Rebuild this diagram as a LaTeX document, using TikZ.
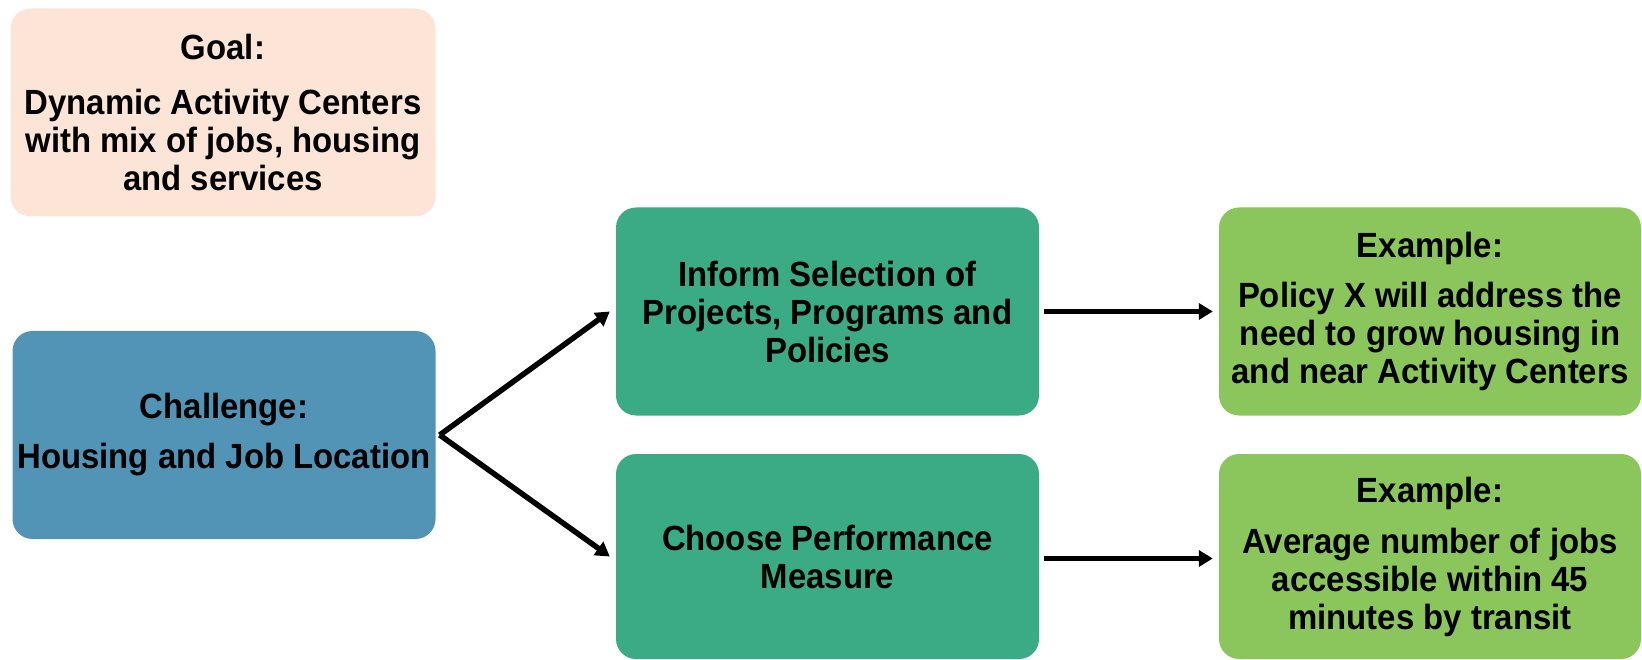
\documentclass[tikz,border=0pt]{standalone}
\usepackage{fontspec}
\newfontfamily\boxfont[FakeStretch=0.94]{Liberation Sans}
\usetikzlibrary{arrows.meta}
\definecolor{goalc}{HTML}{FCE4D7}
\definecolor{chalc}{HTML}{5194B6}
\definecolor{stepc}{HTML}{3AAB84}
\definecolor{exc}{HTML}{8AC65C}
\tikzset{
  card/.style={rounded corners=20pt, draw=none, align=center, inner sep=0pt,
    minimum width=423pt, minimum height=208pt,
    font=\boxfont\bfseries\fontsize{35}{38}\selectfont, text=black},
  arr/.style={line width=5.5pt, -{Triangle[length=14pt,width=16pt]}}
}
\begin{document}
\begin{tikzpicture}[x=1pt,y=-1pt]
\useasboundingbox (0,0) rectangle (1642,660);
\node[card, fill=goalc, minimum width=425pt] (goal) at (223,112.5)
  {Goal:\\[17pt]Dynamic Activity Centers\\with mix of jobs, housing\\and services};
\node[card, fill=chalc] (chal) at (224,435)
  {Challenge:\\[12pt]Housing and Job Location};
\node[card, fill=stepc] (inform) at (827.5,311.5)
  {Inform Selection of\\Projects, Programs and\\Policies};
\node[card, fill=stepc, minimum height=205pt] (choose) at (827.5,556.5)
  {Choose Performance\\Measure};
\node[card, fill=exc, minimum width=422pt] (ex1) at (1430,311.5)
  {Example:\\[12pt]Policy X will address the\\need to grow housing in\\and near Activity Centers};
\node[card, fill=exc, minimum width=422pt, minimum height=205pt] (ex2) at (1430,556.5)
  {Example:\\[13pt]Average number of jobs\\accessible within 45\\minutes by transit};
\draw[arr] ([xshift=4pt]chal.east) -- ([xshift=-6pt]inform.west);
\draw[arr] ([xshift=4pt]chal.east) -- ([xshift=-6pt]choose.west);
\draw[arr] ([xshift=5pt]inform.east) -- ([xshift=-6pt]ex1.west);
\draw[arr] ([xshift=5pt,yshift=-2pt]choose.east) -- ([xshift=-6pt,yshift=-2pt]ex2.west);
\end{tikzpicture}
\end{document}
